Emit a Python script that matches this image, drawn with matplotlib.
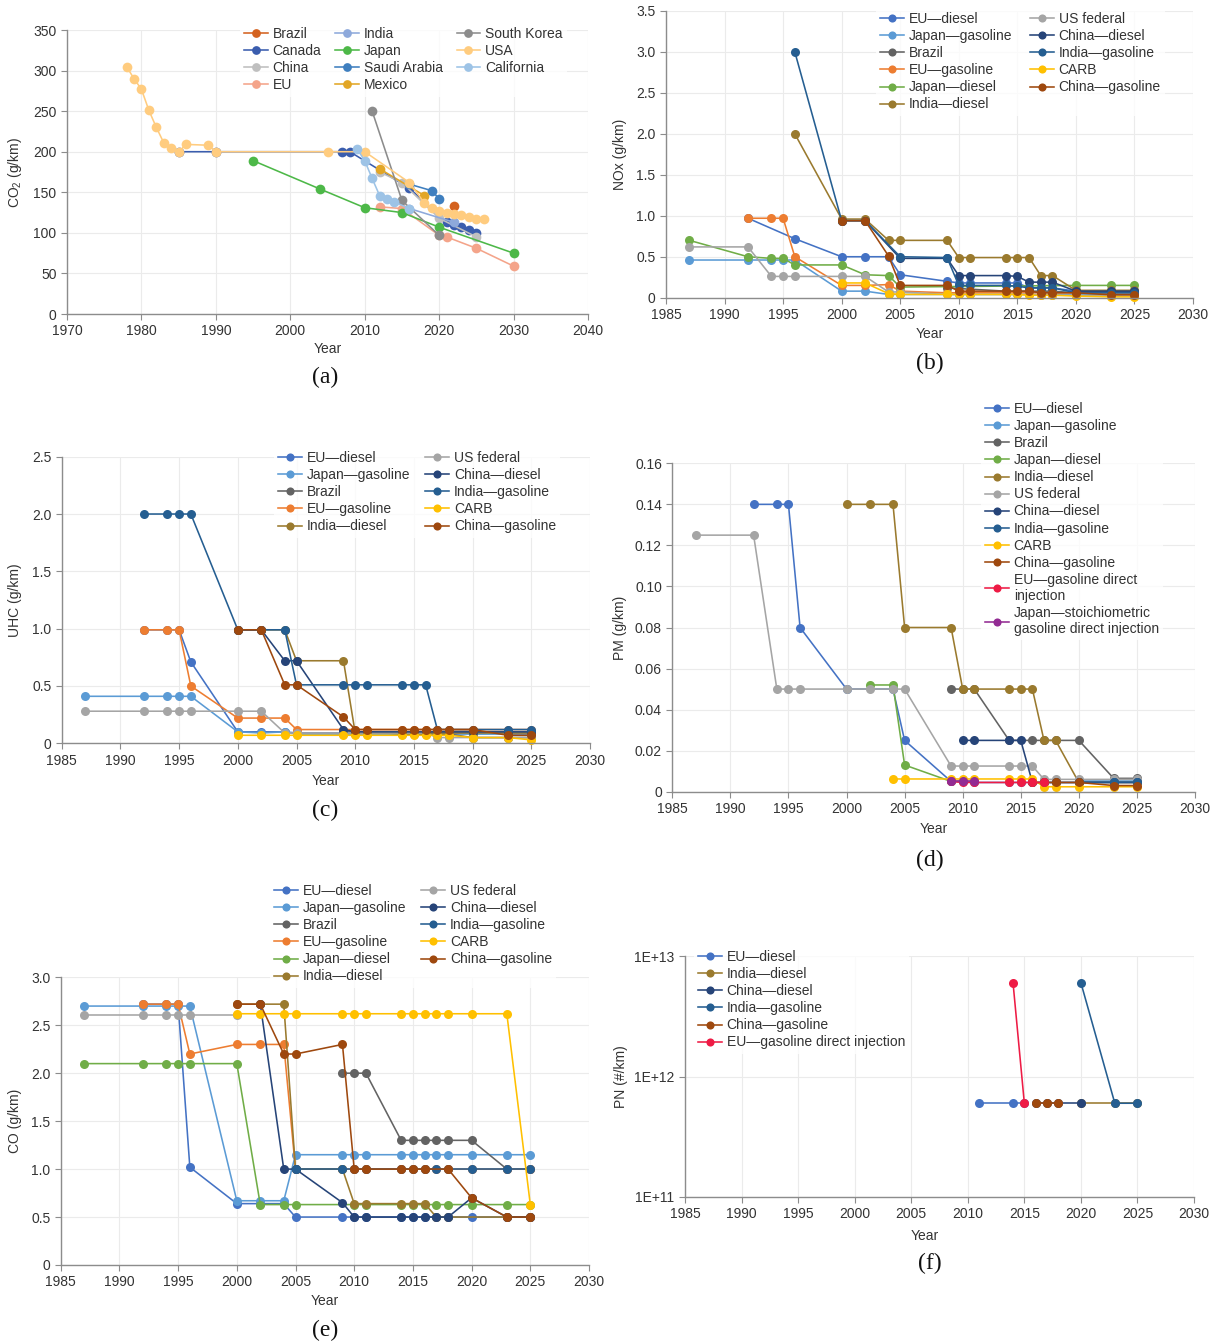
import matplotlib
matplotlib.use("Agg")
import matplotlib.pyplot as plt

plt.rcParams['font.family'] = ['Liberation Sans', 'DejaVu Sans']
plt.rcParams['mathtext.fontset'] = 'custom'
plt.rcParams['mathtext.rm'] = 'Liberation Sans'

W, H = 1217, 1344

# ---- (a) CO2 fleet targets, g/km ----
co2 = {
    "Brazil": ([2022], [133]),
    "Canada": ([1985, 1990, 2007, 2008, 2016, 2021, 2022, 2023, 2024, 2025],
               [200, 200, 200, 200, 155, 113, 110, 107, 104, 100]),
    "China": ([2012, 2015, 2020, 2025], [175, 162, 118, 95]),
    "EU": ([2012, 2015, 2020, 2021, 2025, 2030], [132, 130, 97, 95, 81, 59]),
    "India": ([2016, 2022], [130, 113]),
    "Japan": ([1995, 2004, 2010, 2015, 2020, 2030], [189, 154, 131, 125, 107, 75]),
    "Saudi Arabia": ([2016, 2019, 2020], [160, 152, 142]),
    "Mexico": ([2012, 2018], [179, 146]),
    "South Korea": ([2011, 2015, 2020], [250, 140, 97]),
    "USA": ([1978, 1979, 1980, 1981, 1982, 1983, 1984, 1985, 1986, 1989, 1990, 2005, 2010,
             2016, 2018, 2019, 2020, 2021, 2022, 2023, 2024, 2025, 2026],
            [305, 290, 277, 251, 230, 211, 204, 200, 209, 208, 200, 200, 200,
             162, 137, 131, 127, 124, 123, 122, 119, 117, 117]),
    "California": ([2009, 2010, 2011, 2012, 2013, 2014, 2016],
                   [203, 189, 167, 146, 142, 138, 130]),
}
co2_colors = {
    "Brazil": "#D4621F", "Canada": "#3A5DAE", "China": "#BFBFBF", "EU": "#F4A48A",
    "India": "#8EA9DB", "Japan": "#4DB848", "Saudi Arabia": "#3F7FBF", "Mexico": "#E2A626",
    "South Korea": "#8C8C8C", "USA": "#FFCC7F", "California": "#9DC3E6",
}

# ---- (b) NOx, g/km ----
nox = {
    "EU—diesel": ([1992, 1996, 2000, 2002, 2004, 2005, 2009, 2010, 2011, 2014, 2015, 2016, 2017, 2018, 2020, 2023, 2025],
                  [0.97, 0.72, 0.50, 0.50, 0.50, 0.28, 0.20, 0.18, 0.18, 0.18, 0.18, 0.12, 0.12, 0.12, 0.08, 0.08, 0.08]),
    "Japan—gasoline": ([1987, 1992, 1994, 1995, 1996, 2000, 2002, 2004, 2005, 2010, 2011, 2014, 2015, 2016, 2017, 2018, 2020, 2023, 2025],
                       [0.46, 0.46, 0.46, 0.46, 0.46, 0.08, 0.08, 0.04, 0.04, 0.04, 0.04, 0.04, 0.04, 0.04, 0.04, 0.04, 0.04, 0.04, 0.04]),
    "Brazil": ([2009, 2014, 2015, 2016, 2017, 2018, 2020, 2023, 2025],
               [0.12, 0.08, 0.08, 0.08, 0.08, 0.08, 0.06, 0.06, 0.06]),
    "EU—gasoline": ([1992, 1994, 1995, 1996, 2000, 2002, 2004, 2005, 2009, 2010, 2011, 2014, 2015, 2016, 2017, 2018, 2020, 2023, 2025],
                    [0.97, 0.97, 0.97, 0.50, 0.15, 0.15, 0.16, 0.08, 0.06, 0.06, 0.06, 0.06, 0.06, 0.06, 0.06, 0.06, 0.06, 0.06, 0.06]),
    "Japan—diesel": ([1987, 1992, 1994, 1995, 1996, 2000, 2002, 2004, 2005, 2020, 2023, 2025],
                     [0.70, 0.50, 0.48, 0.48, 0.40, 0.40, 0.28, 0.27, 0.13, 0.15, 0.15, 0.15]),
    "India—diesel": ([1996, 2000, 2002, 2004, 2005, 2009, 2010, 2011, 2014, 2015, 2016, 2017, 2018, 2020, 2023, 2025],
                     [2.0, 0.96, 0.96, 0.70, 0.70, 0.70, 0.49, 0.49, 0.49, 0.49, 0.49, 0.27, 0.27, 0.09, 0.09, 0.09]),
    "US federal": ([1987, 1992, 1994, 1995, 1996, 2000, 2002, 2004, 2005, 2009, 2010, 2011, 2014, 2015, 2016, 2017, 2018, 2020, 2023, 2025],
                   [0.62, 0.62, 0.26, 0.26, 0.26, 0.26, 0.26, 0.07, 0.07, 0.04, 0.04, 0.04, 0.04, 0.04, 0.04, 0.03, 0.03, 0.03, 0.02, 0.02]),
    "China—diesel": ([2000, 2002, 2005, 2009, 2010, 2011, 2014, 2015, 2016, 2017, 2018, 2020, 2023, 2025],
                     [0.94, 0.94, 0.48, 0.48, 0.27, 0.27, 0.27, 0.26, 0.19, 0.19, 0.19, 0.08, 0.08, 0.08]),
    "India—gasoline": ([1996, 2000, 2002, 2005, 2009, 2010, 2011, 2014, 2015, 2016, 2017, 2018, 2020, 2023, 2025],
                       [3.0, 0.94, 0.94, 0.50, 0.49, 0.15, 0.15, 0.15, 0.14, 0.12, 0.12, 0.12, 0.06, 0.06, 0.06]),
    "CARB": ([2000, 2002, 2004, 2005, 2009, 2010, 2011, 2014, 2015, 2016, 2017, 2018, 2020, 2023, 2025],
             [0.18, 0.18, 0.05, 0.04, 0.04, 0.04, 0.04, 0.04, 0.04, 0.03, 0.03, 0.03, 0.02, 0.01, 0.01]),
    "China—gasoline": ([2000, 2002, 2004, 2005, 2009, 2010, 2011, 2014, 2015, 2016, 2017, 2018, 2020, 2023, 2025],
                       [0.94, 0.94, 0.51, 0.15, 0.15, 0.08, 0.08, 0.08, 0.08, 0.08, 0.06, 0.06, 0.06, 0.035, 0.035]),
}

# ---- (c) UHC, g/km ----
uhc = {
    "EU—diesel": ([1992, 1994, 1995, 1996, 2000, 2002, 2004, 2005, 2009, 2010, 2011, 2014, 2015, 2016, 2017, 2018, 2020, 2023, 2025],
                  [0.99, 0.99, 0.99, 0.71, 0.10, 0.10, 0.10, 0.09, 0.09, 0.09, 0.09, 0.09, 0.09, 0.09, 0.09, 0.09, 0.09, 0.09, 0.09]),
    "Japan—gasoline": ([1987, 1992, 1994, 1995, 1996, 2000, 2002, 2004, 2005, 2009, 2010, 2011, 2014, 2015, 2016, 2017, 2018, 2020, 2023, 2025],
                       [0.41, 0.41, 0.41, 0.41, 0.41, 0.10, 0.09, 0.10, 0.08, 0.08, 0.08, 0.08, 0.08, 0.08, 0.08, 0.08, 0.08, 0.08, 0.08, 0.08]),
    "Brazil": ([2009, 2010, 2011, 2014, 2015, 2016, 2017, 2018, 2020, 2023, 2025],
               [0.10, 0.10, 0.10, 0.08, 0.08, 0.08, 0.08, 0.08, 0.05, 0.05, 0.05]),
    "EU—gasoline": ([1992, 1994, 1995, 1996, 2000, 2002, 2004, 2005, 2009, 2010, 2011, 2014, 2015, 2016, 2017, 2018, 2020, 2023, 2025],
                    [0.99, 0.99, 0.99, 0.50, 0.22, 0.22, 0.22, 0.12, 0.12, 0.12, 0.12, 0.12, 0.12, 0.12, 0.12, 0.12, 0.12, 0.12, 0.12]),
    "India—diesel": ([2000, 2002, 2004, 2005, 2009, 2010, 2011, 2014, 2015, 2016, 2017, 2018, 2020, 2023, 2025],
                     [0.99, 0.99, 0.99, 0.72, 0.72, 0.09, 0.09, 0.09, 0.09, 0.09, 0.09, 0.09, 0.09, 0.09, 0.09]),
    "US federal": ([1987, 1992, 1994, 1995, 1996, 2000, 2002, 2004, 2005, 2009, 2010, 2011, 2014, 2015, 2016, 2017, 2018, 2020, 2023, 2025],
                   [0.28, 0.28, 0.28, 0.28, 0.28, 0.28, 0.28, 0.09, 0.09, 0.09, 0.09, 0.09, 0.09, 0.09, 0.09, 0.05, 0.05, 0.05, 0.05, 0.05]),
    "China—diesel": ([2000, 2002, 2004, 2005, 2009, 2010, 2011, 2014, 2015, 2016, 2017, 2018, 2020, 2023, 2025],
                     [0.99, 0.99, 0.72, 0.72, 0.12, 0.10, 0.10, 0.10, 0.10, 0.10, 0.10, 0.10, 0.10, 0.10, 0.10]),
    "India—gasoline": ([1992, 1994, 1995, 1996, 2000, 2002, 2004, 2005, 2009, 2010, 2011, 2014, 2015, 2016, 2017, 2018, 2020, 2023, 2025],
                       [2.0, 2.0, 2.0, 2.0, 0.99, 0.99, 0.99, 0.51, 0.51, 0.51, 0.51, 0.51, 0.51, 0.51, 0.12, 0.12, 0.12, 0.12, 0.12]),
    "CARB": ([2000, 2002, 2004, 2005, 2009, 2010, 2011, 2014, 2015, 2016, 2017, 2018, 2020, 2023, 2025],
             [0.07, 0.07, 0.07, 0.07, 0.07, 0.07, 0.07, 0.07, 0.07, 0.07, 0.07, 0.07, 0.05, 0.05, 0.03]),
    "China—gasoline": ([2000, 2002, 2004, 2005, 2009, 2010, 2011, 2014, 2015, 2016, 2017, 2018, 2020, 2023, 2025],
                       [0.99, 0.99, 0.51, 0.51, 0.23, 0.12, 0.12, 0.12, 0.12, 0.12, 0.12, 0.12, 0.12, 0.07, 0.07]),
}

# ---- (d) PM, g/km ----
pm = {
    "EU—diesel": ([1992, 1994, 1995, 1996, 2000, 2004, 2005, 2009, 2010, 2011, 2014, 2015, 2016, 2017, 2018, 2020, 2023, 2025],
                  [0.14, 0.14, 0.14, 0.08, 0.05, 0.05, 0.025, 0.005, 0.005, 0.0045, 0.0045, 0.0045, 0.0045, 0.0045, 0.0045, 0.0045, 0.0045, 0.0045]),
    "Japan—gasoline": ([2020, 2023, 2025], [0.0057, 0.0057, 0.0057]),
    "Brazil": ([2009, 2010, 2011, 2014, 2016, 2017, 2018, 2020, 2023, 2025],
               [0.05, 0.05, 0.05, 0.025, 0.025, 0.025, 0.025, 0.025, 0.0065, 0.0065]),
    "Japan—diesel": ([2002, 2004, 2005, 2009, 2010, 2011],
                     [0.052, 0.052, 0.013, 0.005, 0.005, 0.005]),
    "India—diesel": ([2000, 2002, 2004, 2005, 2009, 2010, 2011, 2014, 2015, 2016, 2017, 2018, 2020, 2023, 2025],
                     [0.14, 0.14, 0.14, 0.08, 0.08, 0.05, 0.05, 0.05, 0.05, 0.05, 0.025, 0.025, 0.0045, 0.0045, 0.0045]),
    "US federal": ([1987, 1992, 1994, 1995, 1996, 2000, 2002, 2004, 2005, 2009, 2010, 2011, 2014, 2015, 2016, 2017, 2018, 2020, 2023, 2025],
                   [0.125, 0.125, 0.05, 0.05, 0.05, 0.05, 0.05, 0.05, 0.05, 0.0125, 0.0125, 0.0125, 0.0125, 0.0125, 0.0125, 0.006, 0.006, 0.006, 0.006, 0.006]),
    "China—diesel": ([2010, 2011, 2014, 2015, 2016, 2017, 2018, 2020, 2023, 2025],
                     [0.025, 0.025, 0.025, 0.025, 0.0045, 0.0045, 0.0045, 0.0045, 0.0045, 0.0045]),
    "India—gasoline": ([2020, 2023, 2025], [0.0045, 0.0045, 0.0045]),
    "CARB": ([2004, 2005, 2009, 2010, 2011, 2014, 2015, 2016, 2017, 2018, 2020, 2023, 2025],
             [0.0062, 0.0062, 0.0062, 0.0062, 0.0062, 0.0062, 0.0062, 0.0062, 0.0024, 0.0024, 0.0024, 0.0024, 0.0024]),
    "China—gasoline": ([2016, 2017, 2018, 2020, 2023, 2025],
                       [0.0045, 0.0045, 0.0045, 0.0045, 0.003, 0.003]),
    "EU—gasoline direct\ninjection": ([2009, 2010, 2011, 2014, 2015, 2016, 2017],
                                      [0.005, 0.0045, 0.0045, 0.0045, 0.0045, 0.0045, 0.0045]),
    "Japan—stoichiometric\ngasoline direct injection": ([2009, 2010, 2011], [0.005, 0.005, 0.005]),
}

# ---- (e) CO, g/km ----
co = {
    "EU—diesel": ([1992, 1994, 1995, 1996, 2000, 2002, 2004, 2005, 2009, 2010, 2011, 2014, 2015, 2016, 2017, 2018, 2020, 2023, 2025],
                  [2.72, 2.72, 2.72, 1.02, 0.64, 0.64, 0.64, 0.50, 0.50, 0.50, 0.50, 0.50, 0.50, 0.50, 0.50, 0.50, 0.50, 0.50, 0.50]),
    "Japan—gasoline": ([1987, 1992, 1994, 1995, 1996, 2000, 2002, 2004, 2005, 2009, 2010, 2011, 2014, 2015, 2016, 2017, 2018, 2020, 2023, 2025],
                       [2.70, 2.70, 2.70, 2.70, 2.70, 0.67, 0.67, 0.67, 1.15, 1.15, 1.15, 1.15, 1.15, 1.15, 1.15, 1.15, 1.15, 1.15, 1.15, 1.15]),
    "Brazil": ([2009, 2010, 2011, 2014, 2015, 2016, 2017, 2018, 2020, 2023, 2025],
               [2.0, 2.0, 2.0, 1.3, 1.3, 1.3, 1.3, 1.3, 1.3, 1.0, 1.0]),
    "EU—gasoline": ([1992, 1994, 1995, 1996, 2000, 2002, 2004, 2005, 2009, 2010, 2011, 2014, 2015, 2016, 2017, 2018, 2020, 2023, 2025],
                    [2.72, 2.72, 2.72, 2.2, 2.3, 2.3, 2.3, 1.0, 1.0, 1.0, 1.0, 1.0, 1.0, 1.0, 1.0, 1.0, 1.0, 1.0, 1.0]),
    "Japan—diesel": ([1987, 1992, 1994, 1995, 1996, 2000, 2002, 2004, 2005, 2010, 2011, 2014, 2015, 2016, 2017, 2018, 2020, 2023, 2025],
                     [2.1, 2.1, 2.1, 2.1, 2.1, 2.1, 0.63, 0.63, 0.63, 0.63, 0.63, 0.63, 0.63, 0.63, 0.63, 0.63, 0.63, 0.63, 0.63]),
    "India—diesel": ([2000, 2002, 2004, 2005, 2009, 2010, 2011, 2014, 2015, 2016, 2017, 2018, 2023, 2025],
                     [2.72, 2.72, 2.72, 1.0, 1.0, 0.64, 0.64, 0.64, 0.64, 0.64, 0.5, 0.5, 0.5, 0.5]),
    "US federal": ([1987, 1992, 1994, 1995, 1996, 2000],
                   [2.61, 2.61, 2.61, 2.61, 2.61, 2.61]),
    "China—diesel": ([2002, 2004, 2005, 2009, 2010, 2011, 2014, 2015, 2016, 2017, 2018, 2020, 2023, 2025],
                     [2.72, 1.0, 1.0, 0.65, 0.5, 0.5, 0.5, 0.5, 0.5, 0.5, 0.5, 0.7, 0.5, 0.5]),
    "India—gasoline": ([2005, 2009, 2010, 2011, 2014, 2015, 2016, 2017, 2018, 2020, 2023, 2025],
                       [1.0, 1.0, 1.0, 1.0, 1.0, 1.0, 1.0, 1.0, 1.0, 1.0, 1.0, 1.0]),
    "CARB": ([2000, 2002, 2004, 2005, 2009, 2010, 2011, 2014, 2015, 2016, 2017, 2018, 2020, 2023, 2025],
             [2.62, 2.62, 2.62, 2.62, 2.62, 2.62, 2.62, 2.62, 2.62, 2.62, 2.62, 2.62, 2.62, 2.62, 0.63]),
    "China—gasoline": ([2000, 2002, 2004, 2005, 2009, 2010, 2011, 2014, 2015, 2016, 2018, 2020, 2023, 2025],
                       [2.72, 2.72, 2.2, 2.2, 2.3, 1.0, 1.0, 1.0, 1.0, 1.0, 1.0, 0.7, 0.5, 0.5]),
}

# ---- (f) PN, #/km ----
pn = {
    "EU—diesel": ([2011, 2014, 2015], [6e11, 6e11, 6e11]),
    "India—diesel": ([2020, 2023, 2025], [6e11, 6e11, 6e11]),
    "China—diesel": ([2016, 2017, 2018, 2020], [6e11, 6e11, 6e11, 6e11]),
    "India—gasoline": ([2020, 2023, 2025], [6e12, 6e11, 6e11]),
    "China—gasoline": ([2016, 2017, 2018], [6e11, 6e11, 6e11]),
    "EU—gasoline direct injection": ([2014, 2015], [6e12, 6e11]),
}

colors = {
    "EU—diesel": "#4472C4", "Japan—gasoline": "#5B9BD5", "Brazil": "#636363",
    "EU—gasoline": "#ED7D31", "Japan—diesel": "#70AD47", "India—diesel": "#9A7A2E",
    "US federal": "#A5A5A5", "China—diesel": "#264478", "India—gasoline": "#255E91",
    "CARB": "#FFC000", "China—gasoline": "#9E480E",
    "EU—gasoline direct\ninjection": "#EE1B45",
    "EU—gasoline direct injection": "#EE1B45",
    "Japan—stoichiometric\ngasoline direct injection": "#922B93",
}


def panel(px):
    # px = (left, top, right, bottom) in reference pixels
    l, t, r, b = px
    return fig.add_axes([l / W, 1 - b / H, (r - l) / W, (b - t) / H])


def style(ax, xlim, xticks, ylim, yticks, ylabels):
    ax.set_xlim(*xlim)
    ax.set_ylim(*ylim)
    ax.set_xticks(xticks)
    if yticks is not None:
        ax.set_yticks(yticks)
        ax.set_yticklabels(ylabels)
    ax.grid(True, color='#EBEBEB', lw=0.8)
    ax.set_axisbelow(True)
    for s in ['top', 'right']:
        ax.spines[s].set_visible(False)
    for s in ['left', 'bottom']:
        ax.spines[s].set_color('#8C8C8C')
        ax.spines[s].set_linewidth(1.0)
    ax.tick_params(colors='#8C8C8C', labelcolor='#333333', labelsize=10, length=4, width=0.8)


def draw(ax, data, cmap, ms=6.5):
    for name, (xs, ys) in data.items():
        ax.plot(xs, ys, '-o', color=cmap[name], lw=1.15, ms=ms, mew=0, label=name, clip_on=False)


def legend(ax, x, y, ncol, colsp=1.1):
    leg = ax.legend(loc='upper left', bbox_to_anchor=(x / W, 1 - y / H), bbox_transform=fig.transFigure,
                    ncol=ncol, fontsize=10, handlelength=1.7, handletextpad=0.35, labelspacing=0.22,
                    columnspacing=colsp, borderpad=0.3, borderaxespad=0, frameon=True, fancybox=False,
                    markerscale=0.9)
    leg.get_frame().set_facecolor('white')
    leg.get_frame().set_linewidth(0)
    for t in leg.get_texts():
        t.set_color('#333333')


def labels(ax, ylab, yx, xy, xx=0.5):
    ax.text(yx, 0.5, ylab, rotation=90, transform=ax.transAxes, ha='center', va='center',
            fontsize=10, color='#333333')
    ax.text(xx, xy, 'Year', transform=ax.transAxes, ha='center', va='center', fontsize=10, color='#333333')


fig = plt.figure(figsize=(W / 100, H / 100), dpi=100)

years45 = list(range(1985, 2031, 5))

# (a)
ax = panel((67, 30, 588, 314))
draw(ax, co2, co2_colors, ms=7)
style(ax, (1970, 2040), list(range(1970, 2041, 10)), (0, 350), list(range(0, 351, 50)),
      [str(v) for v in range(0, 351, 50)])
legend(ax, 240, 23, 3, colsp=1.0)
labels(ax, r'CO$_\mathrm{2}$ (g/km)', -0.1, -0.123)

# (b)
ax = panel((666, 11, 1193, 297.7))
draw(ax, nox, colors)
yt = [0, 0.5, 1.0, 1.5, 2.0, 2.5, 3.0, 3.5]
style(ax, (1985, 2030), years45, (0, 3.5), yt, ['0'] + [f'{v:.1f}' for v in yt[1:]])
legend(ax, 876, 8, 2, colsp=1.3)
labels(ax, 'NOx (g/km)', -0.087, -0.127)

# (c)
ax = panel((61.7, 456.7, 590, 743.3))
draw(ax, uhc, colors)
yt = [0, 0.5, 1.0, 1.5, 2.0, 2.5]
style(ax, (1985, 2030), years45, (0, 2.5), yt, ['0'] + [f'{v:.1f}' for v in yt[1:]])
legend(ax, 274, 447, 2)
labels(ax, 'UHC (g/km)', -0.088, -0.131)

# (d)
ax = panel((672.3, 463.3, 1195, 791.7))
draw(ax, pm, colors)
yt = [0, 0.02, 0.04, 0.06, 0.08, 0.10, 0.12, 0.14, 0.16]
style(ax, (1985, 2030), years45, (0, 0.16), yt, ['0'] + [f'{v:.2f}' for v in yt[1:]])
legend(ax, 981, 398, 1)
labels(ax, 'PM (g/km)', -0.1, -0.114)

# (e)
ax = panel((60.7, 977.3, 589, 1265))
draw(ax, co, colors)
yt = [0, 0.5, 1.0, 1.5, 2.0, 2.5, 3.0]
style(ax, (1985, 2030), years45, (0, 3.0), yt, ['0'] + [f'{v:.1f}' for v in yt[1:]])
legend(ax, 270, 880, 2)
labels(ax, 'CO (g/km)', -0.086, -0.125)

# (f)
ax = panel((685, 956, 1194, 1197))
draw(ax, pn, colors)
ax.set_yscale('log')
style(ax, (1985, 2030), years45, (1e11, 1e13), [1e11, 1e12, 1e13], ['1E+11', '1E+12', '1E+13'])
ax.minorticks_off()
ax.set_xticks(years45)
legend(ax, 694, 946, 1)
labels(ax, 'PN (#/km)', -0.126, -0.162, xx=0.4715)

for lab, x, y in [('(a)', 325, 377), ('(b)', 930, 363), ('(c)', 325, 810),
                  ('(d)', 930, 860), ('(e)', 325, 1330), ('(f)', 930, 1263)]:
    fig.text(x / W, 1 - y / H, lab, ha='center', va='center', fontsize=17,
             family=['Liberation Serif', 'DejaVu Serif'], color='#111111')

fig.savefig('out.png', dpi=100)
